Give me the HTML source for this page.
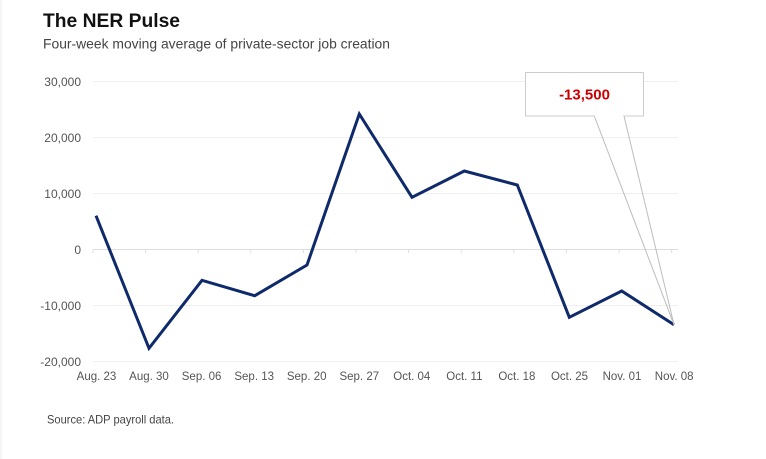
<!DOCTYPE html>
<html><head><meta charset="utf-8"><style>
html,body{margin:0;padding:0;background:#fff;}
svg{display:block;}
</style></head><body>
<svg width="766" height="459" viewBox="0 0 766 459" xmlns="http://www.w3.org/2000/svg" font-family="Liberation Sans, Arial, sans-serif">
<rect x="0" y="0" width="766" height="459" fill="#fff"/>
<line x1="1" y1="0" x2="1" y2="459" stroke="#eeeeee" stroke-width="1"/>
<text x="43" y="27" font-size="19.5" font-weight="bold" fill="#111" textLength="137" lengthAdjust="spacingAndGlyphs">The NER Pulse</text>
<text x="43" y="48.5" font-size="14" fill="#444" textLength="347" lengthAdjust="spacingAndGlyphs">Four-week moving average of private-sector job creation</text>
<g stroke="#efefef" stroke-width="1">
<line x1="93" y1="81.5" x2="678" y2="81.5"/>
<line x1="93" y1="137.5" x2="678" y2="137.5"/>
<line x1="93" y1="193.5" x2="678" y2="193.5"/>
<line x1="93" y1="305.5" x2="678" y2="305.5"/>
<line x1="93" y1="361.5" x2="678" y2="361.5"/>
</g>
<line x1="93" y1="249.5" x2="678" y2="249.5" stroke="#dedede" stroke-width="1"/>
<g stroke="#dedede" stroke-width="1">
<line x1="93" y1="249.5" x2="93" y2="253"/>
<line x1="145.6" y1="249.5" x2="145.6" y2="253"/>
<line x1="198.2" y1="249.5" x2="198.2" y2="253"/>
<line x1="250.8" y1="249.5" x2="250.8" y2="253"/>
<line x1="303.4" y1="249.5" x2="303.4" y2="253"/>
<line x1="356" y1="249.5" x2="356" y2="253"/>
<line x1="408.6" y1="249.5" x2="408.6" y2="253"/>
<line x1="461.2" y1="249.5" x2="461.2" y2="253"/>
<line x1="513.8" y1="249.5" x2="513.8" y2="253"/>
<line x1="566.4" y1="249.5" x2="566.4" y2="253"/>
<line x1="619" y1="249.5" x2="619" y2="253"/>
<line x1="671.6" y1="249.5" x2="671.6" y2="253"/>
</g>
<g font-size="12" fill="#555" text-anchor="end">
<text x="81" y="86">30,000</text>
<text x="81" y="142">20,000</text>
<text x="81" y="198">10,000</text>
<text x="81" y="254">0</text>
<text x="81" y="310">-10,000</text>
<text x="81" y="366">-20,000</text>
</g>
<g font-size="11.5" fill="#555" text-anchor="middle">
<text x="96.5" y="380">Aug. 23</text>
<text x="149" y="380">Aug. 30</text>
<text x="201.6" y="380">Sep. 06</text>
<text x="254.2" y="380">Sep. 13</text>
<text x="306.7" y="380">Sep. 20</text>
<text x="359.3" y="380">Sep. 27</text>
<text x="411.8" y="380">Oct. 04</text>
<text x="464.4" y="380">Oct. 11</text>
<text x="516.9" y="380">Oct. 18</text>
<text x="569.5" y="380">Oct. 25</text>
<text x="622" y="380">Nov. 01</text>
<text x="674.2" y="380">Nov. 08</text>
</g>
<polyline fill="none" stroke="#0f2a6b" stroke-width="3" stroke-linejoin="miter" points="96,215.7 149,348.3 202,280.3 254.7,295.7 307,265 359.3,114 412,197.3 464.3,171 517.3,185 569.3,317.3 621.7,291 674,324.7"/>
<g stroke="#bdbdbd" stroke-width="1" fill="none">
<line x1="594.3" y1="116" x2="674" y2="324.7"/>
<line x1="624" y1="116" x2="674" y2="324.7"/>
</g>
<rect x="525.5" y="72.5" width="118" height="43.5" fill="#fff" stroke="#cccccc" stroke-width="1"/>
<line x1="595" y1="116" x2="623.3" y2="116" stroke="#fff" stroke-width="1.5"/>
<text x="584.5" y="99.5" font-size="15" font-weight="bold" fill="#cc0000" text-anchor="middle">-13,500</text>
<text x="47" y="423.5" font-size="12" fill="#444" textLength="127" lengthAdjust="spacingAndGlyphs">Source: ADP payroll data.</text>
</svg>
</body></html>
